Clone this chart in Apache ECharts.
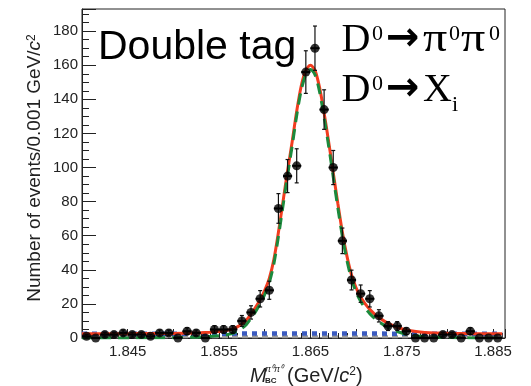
<!DOCTYPE html>
<html>
<head>
<meta charset="utf-8">
<script src="https://cdn.jsdelivr.net/npm/echarts@6/dist/echarts.min.js"></script>
<style>
  html, body { margin: 0; padding: 0; background: #fff; }
  #chart { width: 531px; height: 386px; }
</style>
</head>
<body>
<div id="chart"></div>
<script>
// Bin centres (GeV/c^2), 0.001 wide bins
const binCenters = [
  1.8405, 1.8415, 1.8425, 1.8435, 1.8445, 1.8455, 1.8465, 1.8475, 1.8485, 1.8495,
  1.8505, 1.8515, 1.8525, 1.8535, 1.8545, 1.8555, 1.8565, 1.8575, 1.8585, 1.8595,
  1.8605, 1.8615, 1.8625, 1.8635, 1.8645, 1.8655, 1.8665, 1.8675, 1.8685, 1.8695,
  1.8705, 1.8715, 1.8725, 1.8735, 1.8745, 1.8755, 1.8765, 1.8775, 1.8785, 1.8795,
  1.8805, 1.8815, 1.8825, 1.8835, 1.8845, 1.8855
];
// Events per bin
const counts = [
  1, 0, 2, 2, 3, 2, 2, 1, 3, 3,
  0, 4, 3, 0, 5, 5, 5, 10, 15, 23,
  28, 76, 95, 101, 156, 170, 134, 100, 57, 34,
  26, 23, 13, 7, 7, 4, 0, 0, 0, 2,
  2, 0, 4, 0, 0, 0
];
// Statistical error per bin
const countErrors = [
  1, 0, 1.4, 1.4, 1.7, 1.4, 1.4, 1, 1.7, 1.7,
  0, 2, 1.7, 0, 2.2, 2.2, 2.2, 3.2, 3.9, 4.8,
  5.3, 8.7, 9.7, 10, 12.5, 13, 11.6, 10, 7.5, 5.8,
  5.1, 4.8, 3.6, 2.6, 2.6, 2, 0, 0, 0, 1.4,
  1.4, 0, 2, 0, 0, 0
];

// Fit curves sampled along the mass axis
const fitMass = [
  1.840, 1.842, 1.844, 1.846, 1.848, 1.850, 1.852, 1.853, 1.854, 1.855,
  1.8555, 1.856, 1.8565, 1.857, 1.8575, 1.858, 1.8585, 1.859, 1.8595, 1.860,
  1.8605, 1.861, 1.8615, 1.862, 1.8625, 1.863, 1.8635, 1.864, 1.8645, 1.865,
  1.8655, 1.866, 1.8665, 1.867, 1.8675, 1.868, 1.8685, 1.869, 1.8695, 1.870,
  1.8705, 1.871, 1.8715, 1.872, 1.8725, 1.873, 1.8735, 1.874, 1.8745, 1.875,
  1.8755, 1.876, 1.877, 1.878, 1.880, 1.882, 1.884, 1.886
];
const totalFit = [
  2.5, 2.5, 2.5, 2.6, 2.6, 2.7, 2.9, 3.1, 3.4, 3.8,
  4.1, 4.6, 5.3, 6.5, 8.2, 10.5, 14, 18, 22.5, 28,
  35, 46, 62, 80, 98, 115, 133, 148, 157, 160,
  157, 147, 132, 115, 97, 79, 62, 48, 37, 29.5,
  24, 20, 16.8, 14.2, 12, 10.2, 8.7, 7.4, 6.3, 5.4,
  4.7, 4.2, 3.5, 3.1, 2.8, 2.6, 2.5, 2.5
];
const signalFit = [
  0, 0, 0, 0.1, 0.1, 0.2, 0.4, 0.6, 0.9, 1.3,
  1.6, 2.1, 2.8, 4, 5.7, 8, 11.5, 15.5, 20, 25.5,
  32.5, 43.5, 59.5, 77.5, 95.5, 112.5, 130.5, 145.5, 154.5, 157.5,
  154.5, 144.5, 129.5, 112.5, 94.5, 76.5, 59.5, 45.5, 34.5, 27,
  21.5, 17.5, 14.3, 11.7, 9.5, 7.7, 6.2, 4.9, 3.8, 2.9,
  2.2, 1.7, 1, 0.6, 0.3, 0.1, 0, 0
];
const bkgMass = [1.840, 1.850, 1.860, 1.870, 1.880, 1.886];
const combBkg = [2.5, 2.5, 2.6, 2.6, 2.5, 2.5];
const peakBkg = [0.8, 0.8, 0.8, 0.8, 0.8, 0.8];

const xTickLabels = ['1.845', '1.855', '1.865', '1.875', '1.885'];

const pair = (xs, ys) => xs.map((x, i) => [x, ys[i]]);
const points = binCenters.map((m, i) => [m, counts[i], countErrors[i]]);
const halfBin = 0.0005;

const chart = echarts.init(document.getElementById('chart'), null, { renderer: 'canvas' });

const axisColor = '#222';
const sans = 'Liberation Sans, Arial, Helvetica, sans-serif';
const serif = 'Liberation Serif, Times New Roman, serif';

// Helper for the serif decay labels
const glyph = (text, x, y, size, extra) => ({
  type: 'text', x, y, ...(extra || {}),
  style: { text, fontFamily: serif, fontSize: size, fill: '#000', verticalAlign: 'middle' }
});
const arrow = (x, y) => ({
  type: 'text', x, y,
  style: { text: '→', fontFamily: 'DejaVu Sans', fontWeight: 'bold', fontSize: 40, fill: '#000', verticalAlign: 'middle' }
});

const option = {
  animation: false,
  backgroundColor: '#fff',
  grid: {
    left: 82, right: 26, top: 9, bottom: 48,
    show: true, borderColor: axisColor, borderWidth: 1, backgroundColor: 'transparent'
  },
  xAxis: {
    type: 'value', min: 1.84, max: 1.8863, interval: 0.005,
    axisLine: { onZero: false, lineStyle: { color: axisColor, width: 1 } },
    axisTick: { inside: true, length: 9, lineStyle: { color: axisColor } },
    minorTick: { show: true, splitNumber: 5, length: 5, lineStyle: { color: axisColor } },
    splitLine: { show: false },
    axisLabel: {
      formatter: v => { const s = v.toFixed(3); return xTickLabels.includes(s) ? s : ''; },
      fontFamily: sans, fontSize: 15, color: axisColor, margin: 6,
      showMaxLabel: false
    }
  },
  yAxis: {
    type: 'value', min: 0, max: 193, interval: 20,
    axisLine: { lineStyle: { color: axisColor, width: 1 } },
    axisTick: { inside: true, length: 14, lineStyle: { color: axisColor } },
    minorTick: { show: true, splitNumber: 4, length: 7, lineStyle: { color: axisColor } },
    splitLine: { show: false },
    axisLabel: { fontFamily: sans, fontSize: 15, color: axisColor, margin: 4, showMaxLabel: false }
  },
  series: [
    {
      name: 'peaking', type: 'line', data: pair(bkgMass, peakBkg), symbol: 'none',
      lineStyle: { color: '#9a9a9a', width: 3, type: [6, 4] }, z: 2
    },
    {
      name: 'background', type: 'line', data: pair(bkgMass, combBkg), symbol: 'none',
      lineStyle: { color: '#3a5abf', width: 4.5, type: [5, 5] }, z: 3
    },
    {
      name: 'total', type: 'line', data: pair(fitMass, totalFit), symbol: 'none', smooth: 0.3,
      lineStyle: { color: '#f23c1f', width: 3 }, z: 4
    },
    {
      name: 'signal', type: 'line', data: pair(fitMass, signalFit), symbol: 'none', smooth: 0.3,
      lineStyle: { color: '#1b8a3c', width: 3, type: [11, 7] }, z: 5
    },
    {
      name: 'errors', type: 'custom', data: points, z: 6,
      renderItem: (params, api) => {
        const x = api.value(0), y = api.value(1), e = api.value(2);
        const c = api.coord([x, y]);
        const l = api.coord([x - halfBin, y]);
        const r = api.coord([x + halfBin, y]);
        const children = [{
          type: 'line', shape: { x1: l[0], y1: c[1], x2: r[0], y2: c[1] },
          style: { stroke: '#000', lineWidth: 2 }
        }];
        if (e > 0) {
          const t = api.coord([x, y + e]);
          const b = api.coord([x, y - e]);
          children.push(
            { type: 'line', shape: { x1: c[0], y1: t[1], x2: c[0], y2: b[1] }, style: { stroke: '#111', lineWidth: 1.2 } },
            { type: 'line', shape: { x1: c[0] - 2, y1: t[1], x2: c[0] + 2, y2: t[1] }, style: { stroke: '#111', lineWidth: 1.2 } },
            { type: 'line', shape: { x1: c[0] - 2, y1: b[1], x2: c[0] + 2, y2: b[1] }, style: { stroke: '#111', lineWidth: 1.2 } }
          );
        }
        return { type: 'group', children };
      }
    },
    {
      name: 'data', type: 'scatter', data: points.map(p => [p[0], p[1]]),
      symbol: 'circle', symbolSize: 9, itemStyle: { color: '#000' }, z: 7
    }
  ],
  graphic: [
    // y-axis title
    {
      type: 'text', x: 35, y: 168, rotation: Math.PI / 2,
      style: {
        text: 'Number of events/0.001 GeV/{c|c}{s|2}',
        fontFamily: sans, fontSize: 19, fill: '#222', align: 'center', verticalAlign: 'middle',
        rich: {
          c: { fontFamily: sans, fontSize: 19, fontStyle: 'italic', fill: '#222' },
          s: { fontFamily: sans, fontSize: 12, fill: '#222', verticalAlign: 'top' }
        }
      }
    },
    // x-axis title
    { type: 'text', x: 250, y: 376, style: { text: 'M', fontFamily: sans, fontSize: 20, fontStyle: 'italic', fill: '#222', verticalAlign: 'middle' } },
    { type: 'text', x: 265, y: 381, style: { text: 'BC', fontFamily: sans, fontSize: 8, fontWeight: 'bold', fill: '#222', verticalAlign: 'middle' } },
    { type: 'text', x: 265, y: 369, style: { text: 'π⁰π⁰', fontFamily: sans, fontSize: 9, fontStyle: 'italic', fill: '#222', verticalAlign: 'middle' } },
    {
      type: 'text', x: 287, y: 376,
      style: {
        text: '(GeV/{c|c}{s|2})', fontFamily: sans, fontSize: 20, fill: '#222', verticalAlign: 'middle',
        rich: {
          c: { fontFamily: sans, fontSize: 20, fontStyle: 'italic', fill: '#222' },
          s: { fontFamily: sans, fontSize: 12, fill: '#222', verticalAlign: 'top' }
        }
      }
    },
    // Plot annotations
    { type: 'text', x: 98, y: 47.5, style: { text: 'Double tag', fontFamily: sans, fontSize: 41, fill: '#000', verticalAlign: 'middle' } },
    // D0 -> pi0 pi0
    glyph('D', 341.5, 40, 40),
    glyph('0', 372, 34, 22),
    arrow(386, 40),
    glyph('π', 423, 40, 40, { scaleX: 1.2 }),
    glyph('0', 449, 34, 22),
    glyph('π', 461, 40, 40, { scaleX: 1.2 }),
    glyph('0', 489, 34, 22),
    // D0 -> X_i
    glyph('D', 341.5, 90, 40),
    glyph('0', 372, 84, 22),
    arrow(386, 90),
    glyph('X', 423, 90, 40),
    glyph('i', 452, 105, 22)
  ]
};

chart.setOption(option);
</script>
</body>
</html>
